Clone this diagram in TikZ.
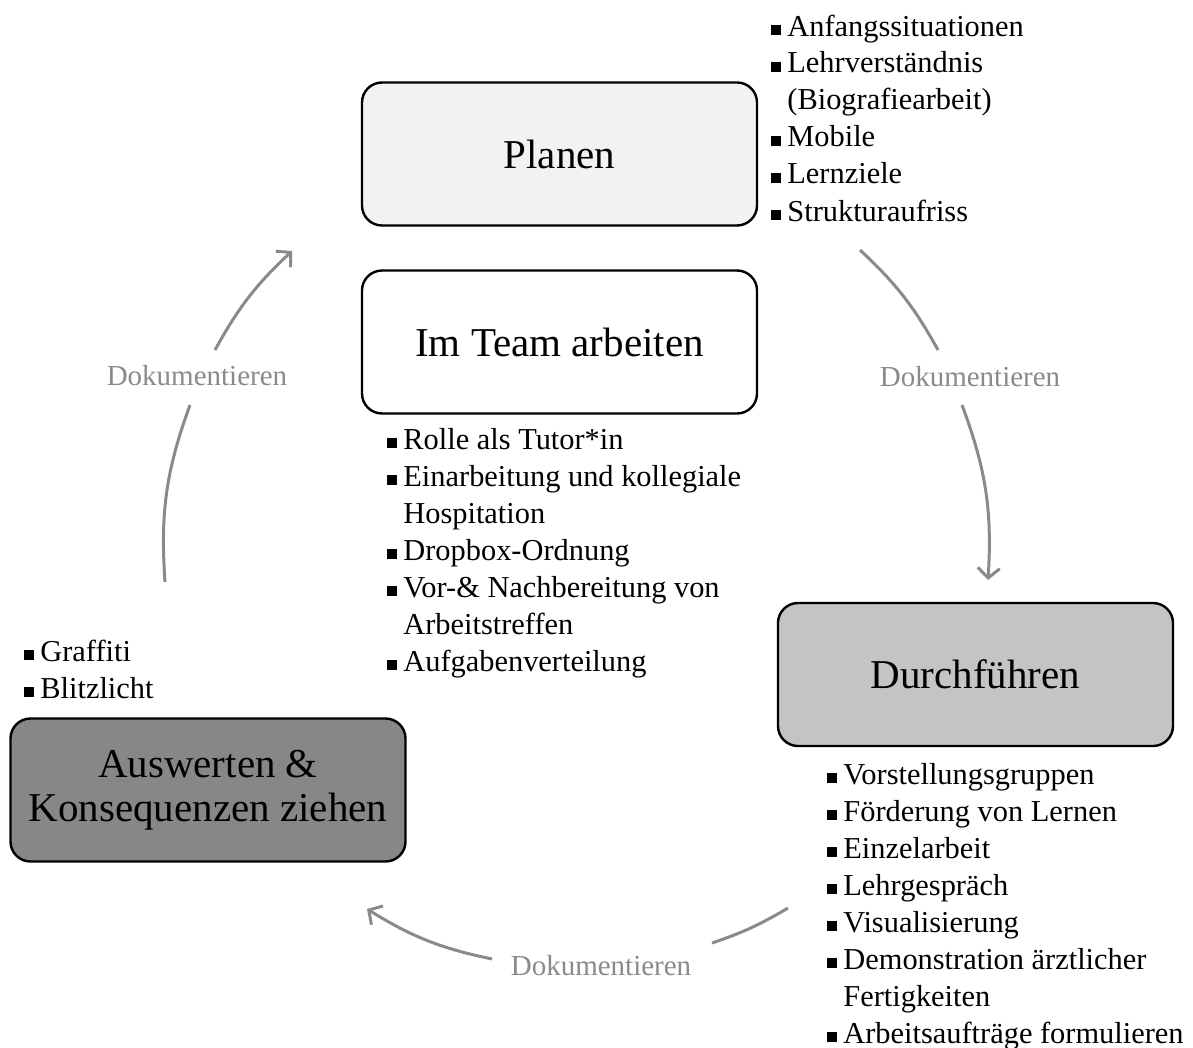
\documentclass[tikz,border=0pt]{standalone}
\usepackage{fontspec}
\setmainfont{Liberation Serif}
\usetikzlibrary{arrows.meta}
\definecolor{planfill}{HTML}{F2F2F2}
\definecolor{durchfill}{HTML}{C4C4C4}
\definecolor{auswfill}{HTML}{878787}
\definecolor{docgray}{HTML}{8A8A8A}
\newcommand\sq{\rule[0.1ex]{0.7ex}{0.7ex}}
\newcommand\itm[1]{\makebox[8pt][l]{\sq}#1}
\newcommand\cnt[1]{\hspace*{8pt}#1}
\tikzset{
  phase/.style={draw=black,line width=1.2pt,rounded corners=10pt,minimum width=197.5pt,minimum height=71.5pt,align=center,font=\fontsize{20.5}{22}\selectfont},
  items/.style={anchor=base west,inner sep=0pt,align=left,font=\fontsize{15.2}{18.5}\selectfont},
  doc/.style={text=docgray,inner sep=0pt,font=\fontsize{14.5}{17}\selectfont},
  cycle/.style={draw=docgray,line width=1.5pt},
  cyclearrow/.style={cycle,-{Straight Barb[length=5pt,width=11pt,line width=1.5pt]}}
}
\begin{document}
\begin{tikzpicture}[x=0.5pt,y=-0.5pt]
	\useasboundingbox (0,0) rectangle (1193,1048);
	% phases
	\node[phase,fill=planfill] (plan) at (559.5,154) {Planen};
	\node[phase,fill=white] (team) at (559.5,342) {Im Team arbeiten};
	\node[phase,fill=durchfill] (durch) at (975.5,674.5) {Durchführen};
	\node[phase,fill=auswfill] (ausw) at (208,790) {Auswerten \&\\Konsequenzen ziehen};
	% lists (placed at the baseline of their last line)
	\node[items] (planlist) at (771,221) {\itm{Anfangssituationen}\\\itm{Lehrverständnis}\\\cnt{(Biografiearbeit)}\\\itm{Mobile}\\\itm{Lernziele}\\\itm{Strukturaufriss}};
	\node[items] (teamlist) at (387,671) {\itm{Rolle als Tutor*in}\\\itm{Einarbeitung und kollegiale}\\\cnt{Hospitation}\\\itm{Dropbox-Ordnung}\\\itm{Vor-\& Nachbereitung von}\\\cnt{Arbeitstreffen}\\\itm{Aufgabenverteilung}};
	\node[items] (durchlist) at (827,1043) {\itm{Vorstellungsgruppen}\\\itm{Förderung von Lernen}\\\itm{Einzelarbeit}\\\itm{Lehrgespräch}\\\itm{Visualisierung}\\\itm{Demonstration ärztlicher}\\\cnt{Fertigkeiten}\\\itm{Arbeitsaufträge formulieren}};
	\node[items] (auswlist) at (24,698) {\itm{Graffiti}\\\itm{Blitzlicht}};
	%
	\node[doc] (doc1) at (970,377) {Dokumentieren};
	\node[doc] (doc2) at (601,966) {Dokumentieren};
	\node[doc] (doc3) at (197,376) {Dokumentieren};
	% cycle arrows
	\coordinate (a1) at (860,250); \coordinate (b1) at (938,350);
	\coordinate (c1) at (962,405); \coordinate (d1) at (988,580);
	\coordinate (a2) at (788,908); \coordinate (b2) at (712,943);
	\coordinate (c2) at (492,959); \coordinate (d2) at (367,909);
	\coordinate (a3) at (165,582); \coordinate (b3) at (190,405);
	\coordinate (c3) at (215,350); \coordinate (d3) at (292,251);
	\draw[cycle] (a1) to[bend left=9] (b1);
	\draw[cyclearrow] (c1) to[bend left=12] (d1);
	\draw[cycle] (a2) to[bend left=6] (b2);
	\draw[cyclearrow] (c2) to[bend left=10] (d2);
	\draw[cycle] (a3) to[bend left=12] (b3);
	\draw[cyclearrow] (c3) to[bend left=9] (d3);
\end{tikzpicture}
\end{document}
